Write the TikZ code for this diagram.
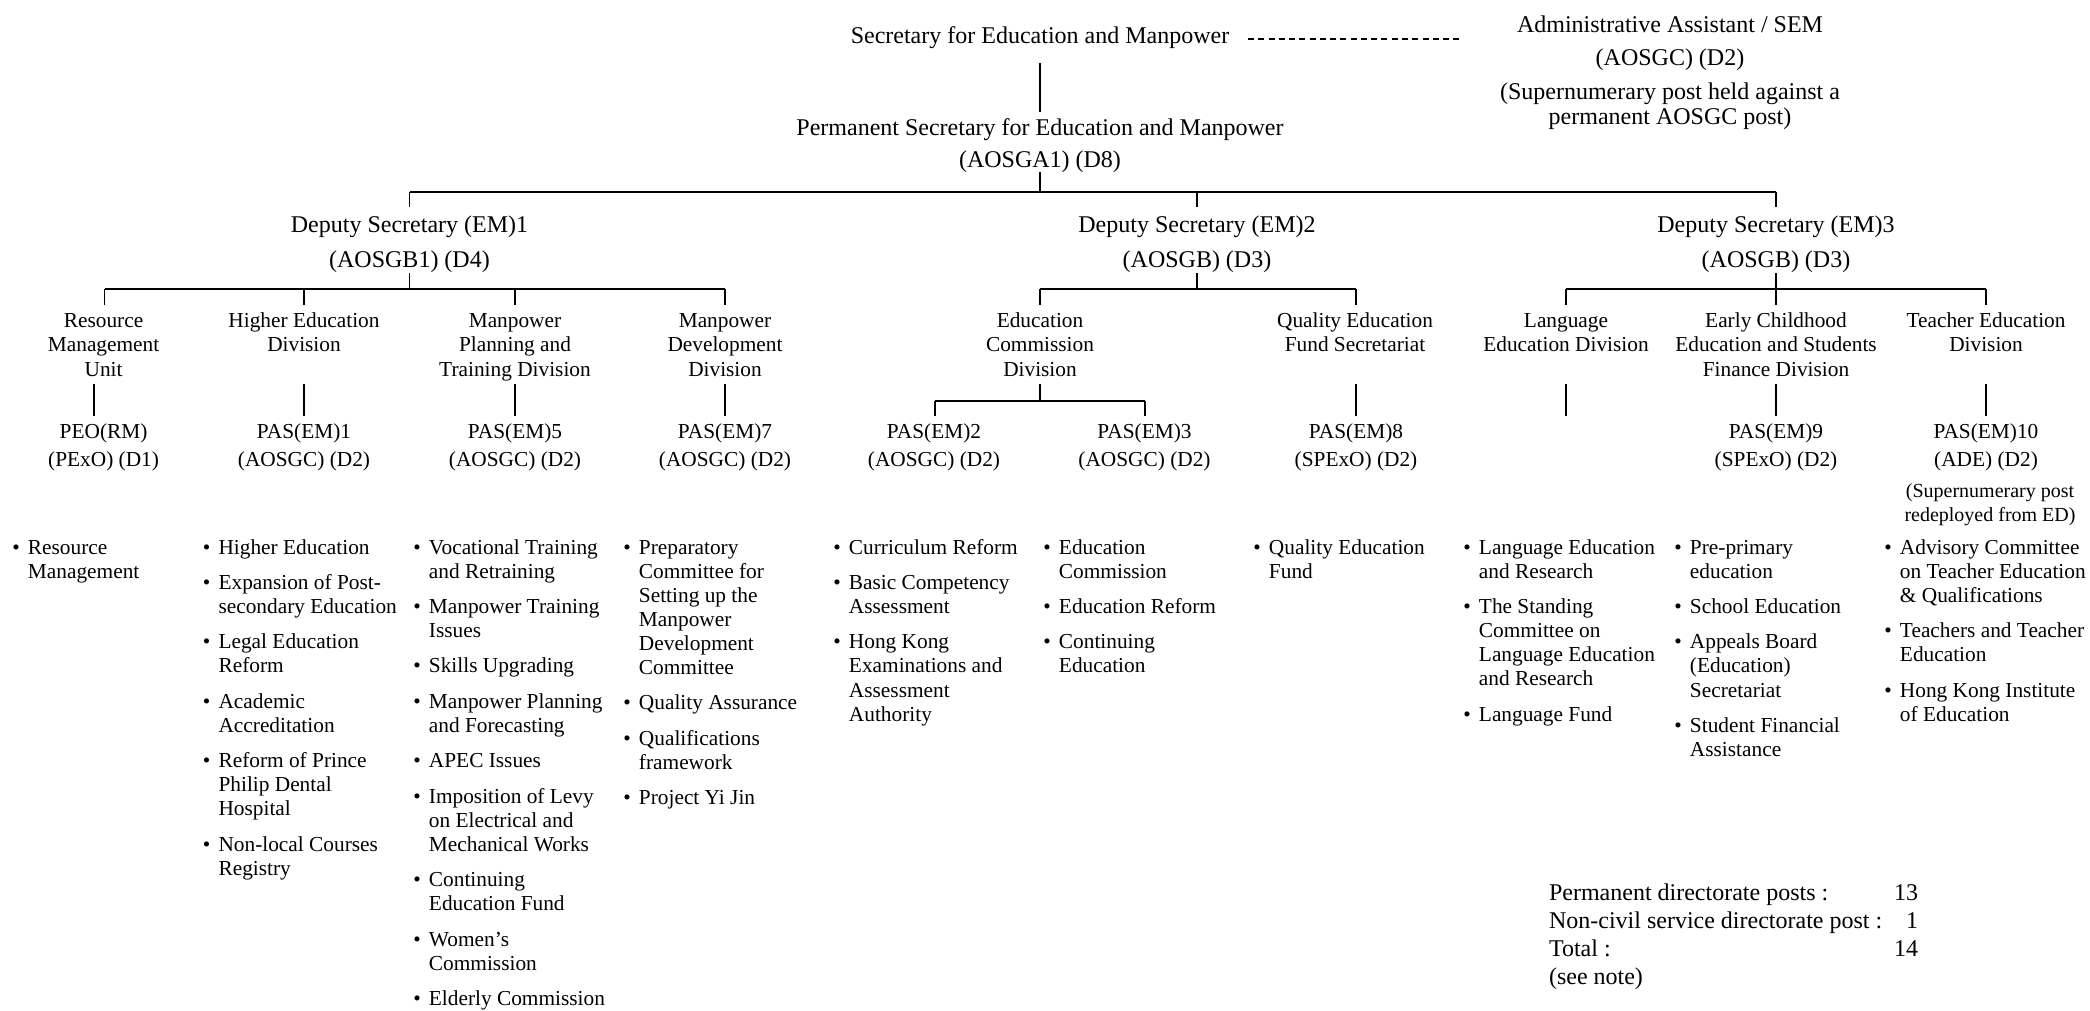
\documentclass[tikz,border=0pt]{standalone}
\usepackage{fontspec}
\setmainfont{Liberation Serif}
\newcommand\ml[1]{\begin{tabular}[t]{@{}c@{}}#1\end{tabular}}
\newcommand\bl[1]{\begin{tabular}[t]{@{}l@{\hspace{6.15pt}}l@{}}#1\end{tabular}}
\newcommand\bi{\textbullet&}
\def\ig{8.5pt}
\tikzset{
  every node/.style={inner sep=0pt, outer sep=0pt},
  topbox/.style={font=\fontsize{18pt}{24pt}\selectfont, anchor=base},
  admbox/.style={font=\fontsize{18pt}{18.75pt}\selectfont, anchor=base},
  depbox/.style={font=\fontsize{18pt}{26.25pt}\selectfont, anchor=base},
  divbox/.style={font=\fontsize{16pt}{18.4pt}\selectfont, anchor=base},
  pasbox/.style={font=\fontsize{16pt}{21pt}\selectfont, anchor=base},
  notebox/.style={font=\fontsize{15pt}{18pt}\selectfont, anchor=base},
  lstbox/.style={font=\fontsize{16pt}{18.05pt}\selectfont, anchor=base west},
  sumbox/.style={font=\fontsize{18pt}{21pt}\selectfont, anchor=base west},
  conn/.style={line width=1.1pt},
  dashline/.style={line width=1.1pt, dash pattern=on 4.5pt off 3.2pt},
}
\begin{document}
\begin{tikzpicture}[x=0.75pt, y=-0.75pt]
\useasboundingbox (0,0) rectangle (2090,1010);

% ---------- top level ----------
\node[topbox] (sec) at (1040,43) {Secretary for Education and Manpower};
\node[admbox] (adm) at (1670,32) {\ml{Administrative Assistant / SEM\\[6.4pt] (AOSGC) (D2)\\[6.4pt] (Supernumerary post held against a\\ permanent AOSGC post)}};
\node[topbox] (ps) at (1040,135) {\ml{Permanent Secretary for Education and Manpower\\ (AOSGA1) (D8)}};

% ---------- deputies ----------
\node[depbox] (dep1) at (409.5,232) {\ml{Deputy Secretary (EM)1\\ (AOSGB1) (D4)}};
\node[depbox] (dep2) at (1197,232) {\ml{Deputy Secretary (EM)2\\ (AOSGB) (D3)}};
\node[depbox] (dep3) at (1776,232) {\ml{Deputy Secretary (EM)3\\ (AOSGB) (D3)}};

% ---------- divisions ----------
\node[divbox] (rmu) at (103.6,327) {\ml{Resource\\ Management\\ Unit}};
\node[divbox] (hed) at (304,327) {\ml{Higher Education\\ Division}};
\node[divbox] (mptd) at (515,327) {\ml{Manpower\\ Planning and\\ Training Division}};
\node[divbox] (mdd) at (725,327) {\ml{Manpower\\ Development\\ Division}};
\node[divbox] (ecd) at (1040,327) {\ml{Education\\ Commission\\ Division}};
\node[divbox] (qef) at (1355,327) {\ml{Quality Education\\ Fund Secretariat}};
\node[divbox] (led) at (1566,327) {\ml{Language\\ Education Division}};
\node[divbox] (ecsf) at (1776,327) {\ml{Early Childhood\\ Education and Students\\ Finance Division}};
\node[divbox] (ted) at (1986,327) {\ml{Teacher Education\\ Division}};

% ---------- posts ----------
\node[pasbox] (peo) at (103.6,438) {\ml{PEO(RM)\\ (PExO) (D1)}};
\node[pasbox] (pas1) at (304,438) {\ml{PAS(EM)1\\ (AOSGC) (D2)}};
\node[pasbox] (pas5) at (515,438) {\ml{PAS(EM)5\\ (AOSGC) (D2)}};
\node[pasbox] (pas7) at (725,438) {\ml{PAS(EM)7\\ (AOSGC) (D2)}};
\node[pasbox] (pas2) at (934,438) {\ml{PAS(EM)2\\ (AOSGC) (D2)}};
\node[pasbox] (pas3) at (1144.5,438) {\ml{PAS(EM)3\\ (AOSGC) (D2)}};
\node[pasbox] (pas8) at (1356,438) {\ml{PAS(EM)8\\ (SPExO) (D2)}};
\node[pasbox] (pas9) at (1776,438) {\ml{PAS(EM)9\\ (SPExO) (D2)}};
\node[pasbox] (pas10) at (1986,438) {\ml{PAS(EM)10\\ (ADE) (D2)}};
\node[notebox] (note10) at (1990,497) {\ml{(Supernumerary post\\ redeployed from ED)}};

% ---------- duty lists ----------
\node[lstbox] (l1) at (12.3,554) {\bl{\bi Resource\\ & Management}};
\node[lstbox] (l2) at (202.9,554) {\bl{\bi Higher Education\\[\ig]
 \bi Expansion of Post-\\ & secondary Education\\[\ig]
 \bi Legal Education\\ & Reform\\[\ig]
 \bi Academic\\ & Accreditation\\[\ig]
 \bi Reform of Prince\\ & Philip Dental\\ & Hospital\\[\ig]
 \bi Non-local Courses\\ & Registry}};
\node[lstbox] (l3) at (413.3,554) {\bl{\bi Vocational Training\\ & and Retraining\\[\ig]
 \bi Manpower Training\\ & Issues\\[\ig]
 \bi Skills Upgrading\\[\ig]
 \bi Manpower Planning\\ & and Forecasting\\[\ig]
 \bi APEC Issues\\[\ig]
 \bi Imposition of Levy\\ & on Electrical and\\ & Mechanical Works\\[\ig]
 \bi Continuing\\ & Education Fund\\[\ig]
 \bi Women’s\\ & Commission\\[\ig]
 \bi Elderly Commission}};
\node[lstbox] (l4) at (623.3,554) {\bl{\bi Preparatory\\ & Committee for\\ & Setting up the\\ & Manpower\\ & Development\\ & Committee\\[\ig]
 \bi Quality Assurance\\[\ig]
 \bi Qualifications\\ & framework\\[\ig]
 \bi Project Yi Jin}};
\node[lstbox] (l5) at (833.3,554) {\bl{\bi Curriculum Reform\\[\ig]
 \bi Basic Competency\\ & Assessment\\[\ig]
 \bi Hong Kong\\ & Examinations and\\ & Assessment\\ & Authority}};
\node[lstbox] (l6) at (1043.3,554) {\bl{\bi Education\\ & Commission\\[\ig]
 \bi Education Reform\\[\ig]
 \bi Continuing\\ & Education}};
\node[lstbox] (l7) at (1253.3,554) {\bl{\bi Quality Education\\ & Fund}};
\node[lstbox] (l8) at (1463.3,554) {\bl{\bi Language Education\\ & and Research\\[\ig]
 \bi The Standing\\ & Committee on\\ & Language Education\\ & and Research\\[\ig]
 \bi Language Fund}};
\node[lstbox] (l9) at (1674.3,554) {\bl{\bi Pre-primary\\ & education\\[\ig]
 \bi School Education\\[\ig]
 \bi Appeals Board\\ & (Education)\\ & Secretariat\\[\ig]
 \bi Student Financial\\ & Assistance}};
\node[lstbox] (l10) at (1884.3,554) {\bl{\bi Advisory Committee\\ & on Teacher Education\\ & \& Qualifications\\[\ig]
 \bi Teachers and Teacher\\ & Education\\[\ig]
 \bi Hong Kong Institute\\ & of Education}};

% ---------- summary ----------
\node[sumbox] (sum) at (1549,900) {\begin{tabular*}{276.75pt}[t]{@{}l@{\extracolsep{\fill}}r@{}}
Permanent directorate posts : & 13\\
Non-civil service directorate post : & 1\\
Total : & 14\\
(see note) & \end{tabular*}};

% ---------- connectors ----------
\draw[conn] (1040,63) coordinate (secB) -- (1040,112) coordinate (psT);
\draw[dashline] (1248,39) coordinate (dashA) -- (1461,39) coordinate (dashB);
\draw[conn] (1040,172) coordinate (psB) -- (1040,192) coordinate (barM);
\draw[conn] (409.5,192) coordinate (barL) -- (1776,192) coordinate (barR);
\draw[conn] (barL) -- (409.5,207) coordinate (dep1T);
\draw[conn] (1197,192) coordinate (barC) -- (1197,207) coordinate (dep2T);
\draw[conn] (barR) -- (1776,207) coordinate (dep3T);

% deputy 1 branch
\draw[conn] (409.5,273) coordinate (dep1B) -- (409.5,289) coordinate (s1M);
\draw[conn] (104.6,289) coordinate (s1L) -- (725,289) coordinate (s1R);
\draw[conn] (s1L) -- (104.6,305) coordinate (rmuT);
\draw[conn] (304,289) coordinate (s1a) -- (304,305) coordinate (hedT);
\draw[conn] (515,289) coordinate (s1b) -- (515,305) coordinate (mptdT);
\draw[conn] (s1R) -- (725,305) coordinate (mddT);
% deputy 2 branch
\draw[conn] (1197,273) coordinate (dep2B) -- (1197,289) coordinate (s2M);
\draw[conn] (1040,289) coordinate (s2L) -- (1356,289) coordinate (s2R);
\draw[conn] (s2L) -- (1040,305) coordinate (ecdT);
\draw[conn] (s2R) -- (1356,305) coordinate (qefT);
% deputy 3 branch
\draw[conn] (1776,273) coordinate (dep3B) -- (1776,289) coordinate (s3M);
\draw[conn] (1566,289) coordinate (s3L) -- (1986,289) coordinate (s3R);
\draw[conn] (s3L) -- (1566,305) coordinate (ledT);
\draw[conn] (s3M) -- (1776,305) coordinate (ecsfT);
\draw[conn] (s3R) -- (1986,305) coordinate (tedT);

% divisions to posts
\draw[conn] (94,384) coordinate (rmuB) -- (94,416) coordinate (peoT);
\draw[conn] (304,384) coordinate (hedB) -- (304,416) coordinate (pas1T);
\draw[conn] (515,384) coordinate (mptdB) -- (515,416) coordinate (pas5T);
\draw[conn] (725,384) coordinate (mddB) -- (725,416) coordinate (pas7T);
\draw[conn] (1040,384) coordinate (ecdB) -- (1040,401) coordinate (ecM);
\draw[conn] (935,401) coordinate (ecL) -- (1145,401) coordinate (ecR);
\draw[conn] (ecL) -- (935,416) coordinate (pas2T);
\draw[conn] (ecR) -- (1145,416) coordinate (pas3T);
\draw[conn] (1356,384) coordinate (qefB) -- (1356,416) coordinate (pas8T);
\draw[conn] (1566,384) coordinate (ledB) -- (1566,416) coordinate (ledE);
\draw[conn] (1776,384) coordinate (ecsfB) -- (1776,416) coordinate (pas9T);
\draw[conn] (1986,384) coordinate (tedB) -- (1986,416) coordinate (pas10T);
\end{tikzpicture}
\end{document}
